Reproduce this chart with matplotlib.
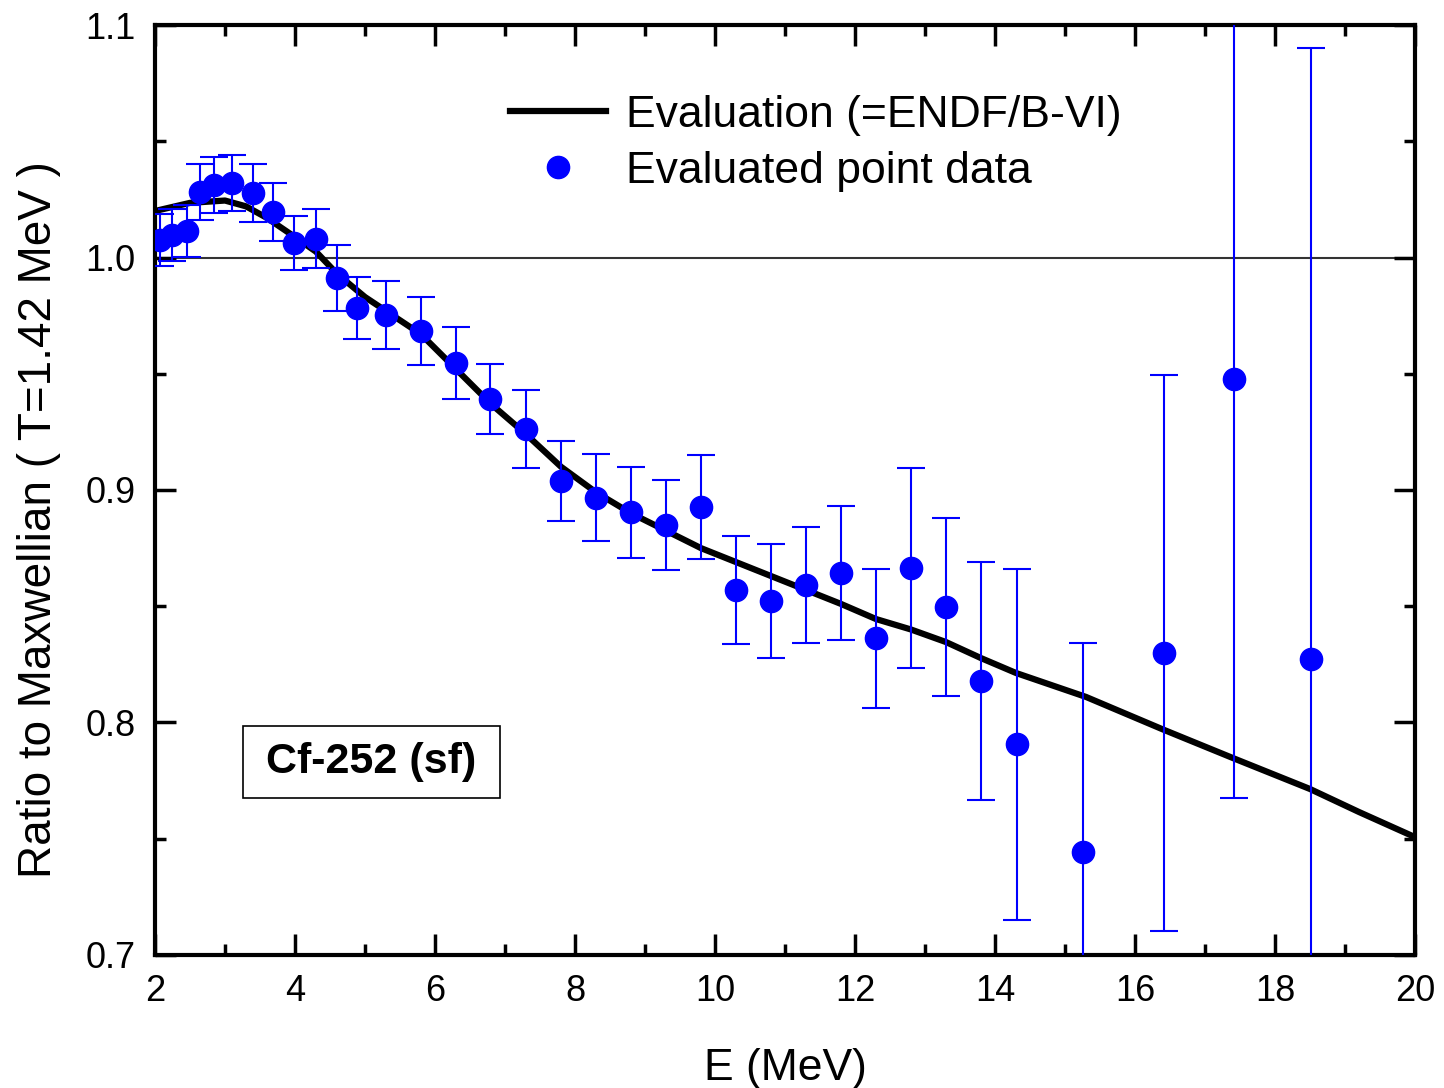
import matplotlib
matplotlib.use("Agg")
import matplotlib.pyplot as plt
from matplotlib.ticker import MultipleLocator
from matplotlib.patches import Rectangle

plt.rcParams['font.family'] = ['Liberation Sans', 'DejaVu Sans']

# Evaluated point data
E_pts = [2.07, 2.24, 2.46, 2.64, 2.84, 3.10, 3.40, 3.69, 3.99, 4.30, 4.60, 4.89,
         5.30, 5.80, 6.30, 6.79, 7.30, 7.80, 8.30, 8.80, 9.30, 9.80, 10.30, 10.80,
         11.30, 11.80, 12.30, 12.80, 13.30, 13.80, 14.31, 15.26, 16.41, 17.41, 18.51]
R_pts = [1.0075, 1.0097, 1.0114, 1.0282, 1.0312, 1.0320, 1.0277, 1.0196, 1.0062,
         1.0080, 0.9912, 0.9783, 0.9753, 0.9684, 0.9546, 0.9391, 0.9262, 0.9039,
         0.8966, 0.8905, 0.8849, 0.8927, 0.8570, 0.8523, 0.8591, 0.8643, 0.8363,
         0.8665, 0.8497, 0.8178, 0.7907, 0.7443, 0.8299, 0.9476, 0.8275]
R_err = [0.011, 0.011, 0.011, 0.012, 0.012, 0.012, 0.0125, 0.0123, 0.0116, 0.0127,
         0.014, 0.0135, 0.0145, 0.0146, 0.0155, 0.0149, 0.0168, 0.0172, 0.0187,
         0.0196, 0.0194, 0.0224, 0.0232, 0.0246, 0.0248, 0.029, 0.0299, 0.043,
         0.0384, 0.0512, 0.0755, 0.090, 0.1197, 0.180, 0.2626]

# Evaluation curve (ENDF/B-VI)
E_eval = [2.0, 2.5, 3.0, 3.3, 3.6, 4.0, 4.3, 4.6, 5.0, 5.3, 5.8, 6.3, 6.8, 7.3, 7.8,
          8.3, 8.8, 9.3, 9.8, 10.3, 10.8, 11.3, 11.8, 12.3, 12.8, 13.3, 13.8, 14.3,
          15.3, 16.4, 17.4, 18.5, 19.2, 20.0]
R_eval = [1.020, 1.0235, 1.0245, 1.022, 1.017, 1.0088, 1.0025, 0.993, 0.983, 0.977,
          0.967, 0.952, 0.937, 0.924, 0.910, 0.899, 0.890, 0.8825, 0.875, 0.869,
          0.863, 0.857, 0.851, 0.8445, 0.840, 0.8346, 0.8277, 0.8213, 0.811, 0.797,
          0.7847, 0.7714, 0.7615, 0.7507]

fig = plt.figure(figsize=(14.44, 10.88), dpi=100)
ax = fig.add_axes([155/1444, 1-955/1088, (1415-155)/1444, (955-25)/1088])

ax.axhline(1.0, color='#333333', lw=1.5, zorder=1)
ax.plot(E_eval, R_eval, color='black', lw=4.5, zorder=3, label='Evaluation (=ENDF/B-VI)')
ax.errorbar(E_pts, R_pts, yerr=R_err, fmt='none', ecolor='#0000ff', elinewidth=1.5,
            capsize=10, capthick=1.5, zorder=4)
ax.plot(E_pts, R_pts, 'o', color='#0000ff', ms=16, mec='#0000ff', zorder=5,
        label='Evaluated point data')

ax.set_xlim(2, 20)
ax.set_ylim(0.7, 1.1)
ax.xaxis.set_major_locator(MultipleLocator(2))
ax.xaxis.set_minor_locator(MultipleLocator(1))
ax.yaxis.set_major_locator(MultipleLocator(0.1))
ax.yaxis.set_minor_locator(MultipleLocator(0.05))
ax.yaxis.set_major_formatter(matplotlib.ticker.FormatStrFormatter('%.1f'))
ax.tick_params(which='both', direction='in', top=True, right=True, width=2.5,
               labelsize=26, pad=14)
ax.tick_params(which='major', length=15)
ax.tick_params(which='minor', length=8)
for s in ax.spines.values():
    s.set_linewidth(3)

ax.set_xlabel('E (MeV)', fontsize=32, labelpad=28)
ax.set_ylabel('Ratio to Maxwellian ( T=1.42 MeV )', fontsize=33)
ax.yaxis.set_label_coords(-0.0745, 0.468)

leg = ax.legend(loc='upper left', bbox_to_anchor=(0.268, 0.944), frameon=False,
                fontsize=32, handlelength=2.15, handletextpad=0.45, labelspacing=0.33,
                borderaxespad=0)

ax.add_patch(Rectangle((0.0698, 0.1688), 0.204, 0.0774, transform=ax.transAxes,
                       fc='white', ec='black', lw=1.2, zorder=6))
ax.text(0.1718, 0.2075, 'Cf-252 (sf)', transform=ax.transAxes, fontsize=31,
        fontweight='bold', ha='center', va='center', zorder=7)

fig.savefig('out.png', dpi=100)
